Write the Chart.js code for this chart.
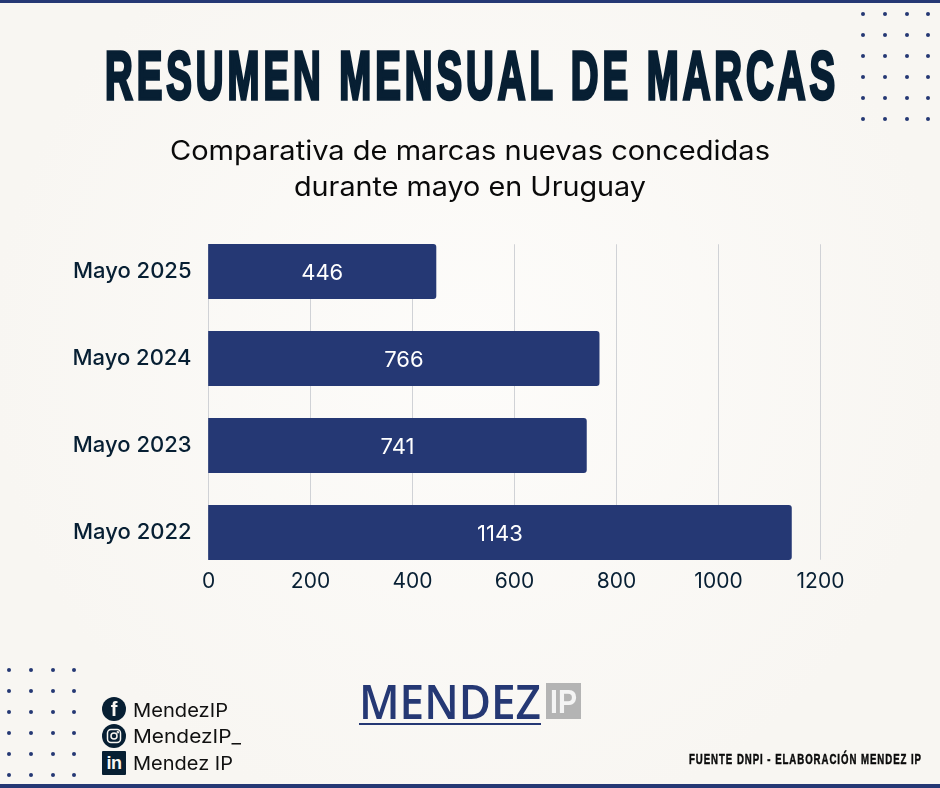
<!DOCTYPE html>
<html lang="es">
<head>
<meta charset="utf-8">
<title>Resumen mensual de marcas</title>
<script src="https://cdn.jsdelivr.net/npm/chart.js@4"></script>
<style>
  html, body { margin: 0; padding: 0; }
  body { width: 940px; height: 788px; position: relative; overflow: hidden;
    background: radial-gradient(circle at 50% 45%, #fdfcfa 0%, #f8f6f2 75%); color: #071f33; }
  .abs { position: absolute; white-space: nowrap; transform-origin: 0 50%; }
  .bar { position: absolute; left: 0; width: 940px; background: #253874; }
  #title { top: 33px; font: bold 68px/84px "Liberation Sans", sans-serif;
    letter-spacing: 7px; color: #071f33; -webkit-text-stroke: 3.5px #071f33; }
  .sub { font: 400 27px/36px Inter, sans-serif; color: #0a0a0a; }
  #chart { position: absolute; left: 0; top: 0; }
  .dots { position: absolute; display: grid; grid-template-columns: repeat(4, 4px); grid-auto-rows: 4px; column-gap: 17.8px; row-gap: 17.1px; }
  .dots i { width: 4px; height: 4px; border-radius: 50%; background: #253874; }
  .soc { font: 400 19px/24px Inter, sans-serif; color: #111; }
  .ico { position: absolute; left: 102px; width: 24px; height: 24px; background: #071f33; color: #f8f6f2; text-align: center; }
  #logo { top: 673px; font: 600 47px/56px "Open Sans", sans-serif; color: #253874; }
  #logoLine { position: absolute; left: 359px; top: 722.5px; width: 182px; height: 2.5px; background: #253874; }
  #ipBox { position: absolute; left: 546px; top: 683px; width: 35px; height: 36px; background: #b4b4b4; }
  #ip { top: 683px; color: #f4f4f4; font: 600 34px/36px "Liberation Sans", sans-serif; }
  #src { top: 750px; font: bold 15px/18px "Liberation Sans", sans-serif; letter-spacing: 1.5px; color: #0a0a0a; -webkit-text-stroke: 0.5px #0a0a0a; }
</style>
</head>
<body>
<div class="bar" style="top:0;height:3px"></div>
<div class="bar" style="top:784px;height:4px"></div>

<canvas id="chart" width="940" height="788"></canvas>

<div class="abs" id="title">RESUMEN MENSUAL DE MARCAS</div>
<div class="abs sub" id="sub1" style="top:133px">Comparativa de marcas nuevas concedidas</div>
<div class="abs sub" id="sub2" style="top:169px">durante mayo en Uruguay</div>

<div class="dots" id="dotsTop" style="left:861px;top:12px"></div>
<div class="dots" id="dotsBottom" style="left:7px;top:668px"></div>

<div class="ico" style="top:697px;border-radius:50%;font:bold 20px/25px 'Liberation Sans',sans-serif">f</div>
<div class="ico" style="top:724px;border-radius:50%">
  <svg width="24" height="24" viewBox="0 0 24 24" fill="none" stroke="#f8f6f2" stroke-width="1.5" style="display:block">
    <rect x="5.5" y="5.5" width="13" height="13" rx="3.5"></rect><circle cx="12" cy="12" r="3"></circle><circle cx="15.8" cy="8.2" r="0.5"></circle>
  </svg>
</div>
<div class="ico" style="top:751px;border-radius:1px;font:bold 18px/25px 'Liberation Sans',sans-serif;letter-spacing:-0.5px">in</div>
<div class="abs soc" id="soc1" style="top:699px">MendezIP</div>
<div class="abs soc" id="soc2" style="top:725px">MendezIP_</div>
<div class="abs soc" id="soc3" style="top:752px">Mendez IP</div>

<div class="abs" id="logo">MENDEZ</div>
<div id="logoLine"></div>
<div id="ipBox"></div>
<div class="abs" id="ip">IP</div>
<div class="abs" id="src">FUENTE DNPI - ELABORACIÓN MENDEZ IP</div>

<script>
// chart data
const categories = ['Mayo 2025', 'Mayo 2024', 'Mayo 2023', 'Mayo 2022'];
const brandsGranted = [446, 766, 741, 1143];
const xTicks = [0, 200, 400, 600, 800, 1000, 1200];

const NAVY = '#253874';
const INK = '#071f33';
const GRID = '#d0d2d6';

for (const id of ['dotsTop', 'dotsBottom']) {
  document.getElementById(id).innerHTML = '<i></i>'.repeat(24);
}

// no condensed fonts installed, so squeeze text to the measured width
function fit(id, left, width) {
  const el = document.getElementById(id);
  el.style.left = left + 'px';
  el.style.transform = `scaleX(${width / el.getBoundingClientRect().width})`;
}
fit('title', 105, 734);
fit('sub1', 170, 600);
fit('sub2', 294, 352);
fit('soc1', 133, 95);
fit('soc2', 133, 108);
fit('soc3', 133, 100);
fit('logo', 359, 182);
fit('ip', 550, 27);
fit('src', 689, 233);

// gridlines only run from the top of the first bar to the bottom of the last one
const shortGrid = {
  id: 'shortGrid',
  beforeDatasetsDraw(chart) {
    const { ctx, scales: { x } } = chart;
    const bars = chart.getDatasetMeta(0).data;
    const top = bars[0].y - bars[0].height / 2;
    const bottom = bars[bars.length - 1].y + bars[bars.length - 1].height / 2;
    ctx.save();
    ctx.strokeStyle = GRID;
    ctx.lineWidth = 1;
    for (const t of xTicks) {
      const px = Math.floor(x.getPixelForValue(t)) + 0.5;
      ctx.beginPath();
      ctx.moveTo(px, top);
      ctx.lineTo(px, bottom);
      ctx.stroke();
    }
    ctx.restore();
  },
};

const barValues = {
  id: 'barValues',
  afterDatasetsDraw(chart) {
    const { ctx } = chart;
    const base = chart.scales.x.getPixelForValue(0);
    ctx.save();
    ctx.fillStyle = '#ffffff';
    ctx.font = '400 22px Inter, sans-serif';
    ctx.textAlign = 'center';
    ctx.textBaseline = 'middle';
    chart.getDatasetMeta(0).data.forEach((bar, i) => {
      ctx.fillText(String(brandsGranted[i]), (base + bar.x) / 2, bar.y + 2);
    });
    ctx.restore();
  },
};

// y axis has no offset: first and last category sit on the plot edges,
// the bars spill over them (clip off) and the x labels hang well below
new Chart(document.getElementById('chart'), {
  type: 'bar',
  data: {
    labels: categories,
    datasets: [{
      data: brandsGranted,
      backgroundColor: NAVY,
      borderRadius: 3,
      borderSkipped: 'start',
      barThickness: 54.5,
      clip: false,
    }],
  },
  options: {
    indexAxis: 'y',
    responsive: false,
    animation: false,
    layout: { padding: { top: 271.5, left: 0, right: 119.5, bottom: 185.5 } },
    plugins: { legend: { display: false }, tooltip: { enabled: false } },
    scales: {
      x: {
        min: 0, max: 1200,
        afterFit: (s) => { s.height = 70; },
        afterBuildTicks: (s) => { s.ticks = xTicks.map((value) => ({ value })); },
        grid: { display: false, drawTicks: false },
        border: { display: false },
        ticks: {
          padding: 37, color: INK, maxRotation: 0,
          callback: (v) => String(v),
          font: { family: 'Inter', size: 21 },
        },
      },
      y: {
        offset: false,
        afterFit: (s) => { s.width = 208.5; },
        grid: { display: false, drawTicks: false },
        border: { display: false },
        ticks: { padding: 17, color: INK, font: { family: 'Inter', size: 22, weight: '500' } },
      },
    },
  },
  plugins: [shortGrid, barValues],
});
</script>
</body>
</html>
